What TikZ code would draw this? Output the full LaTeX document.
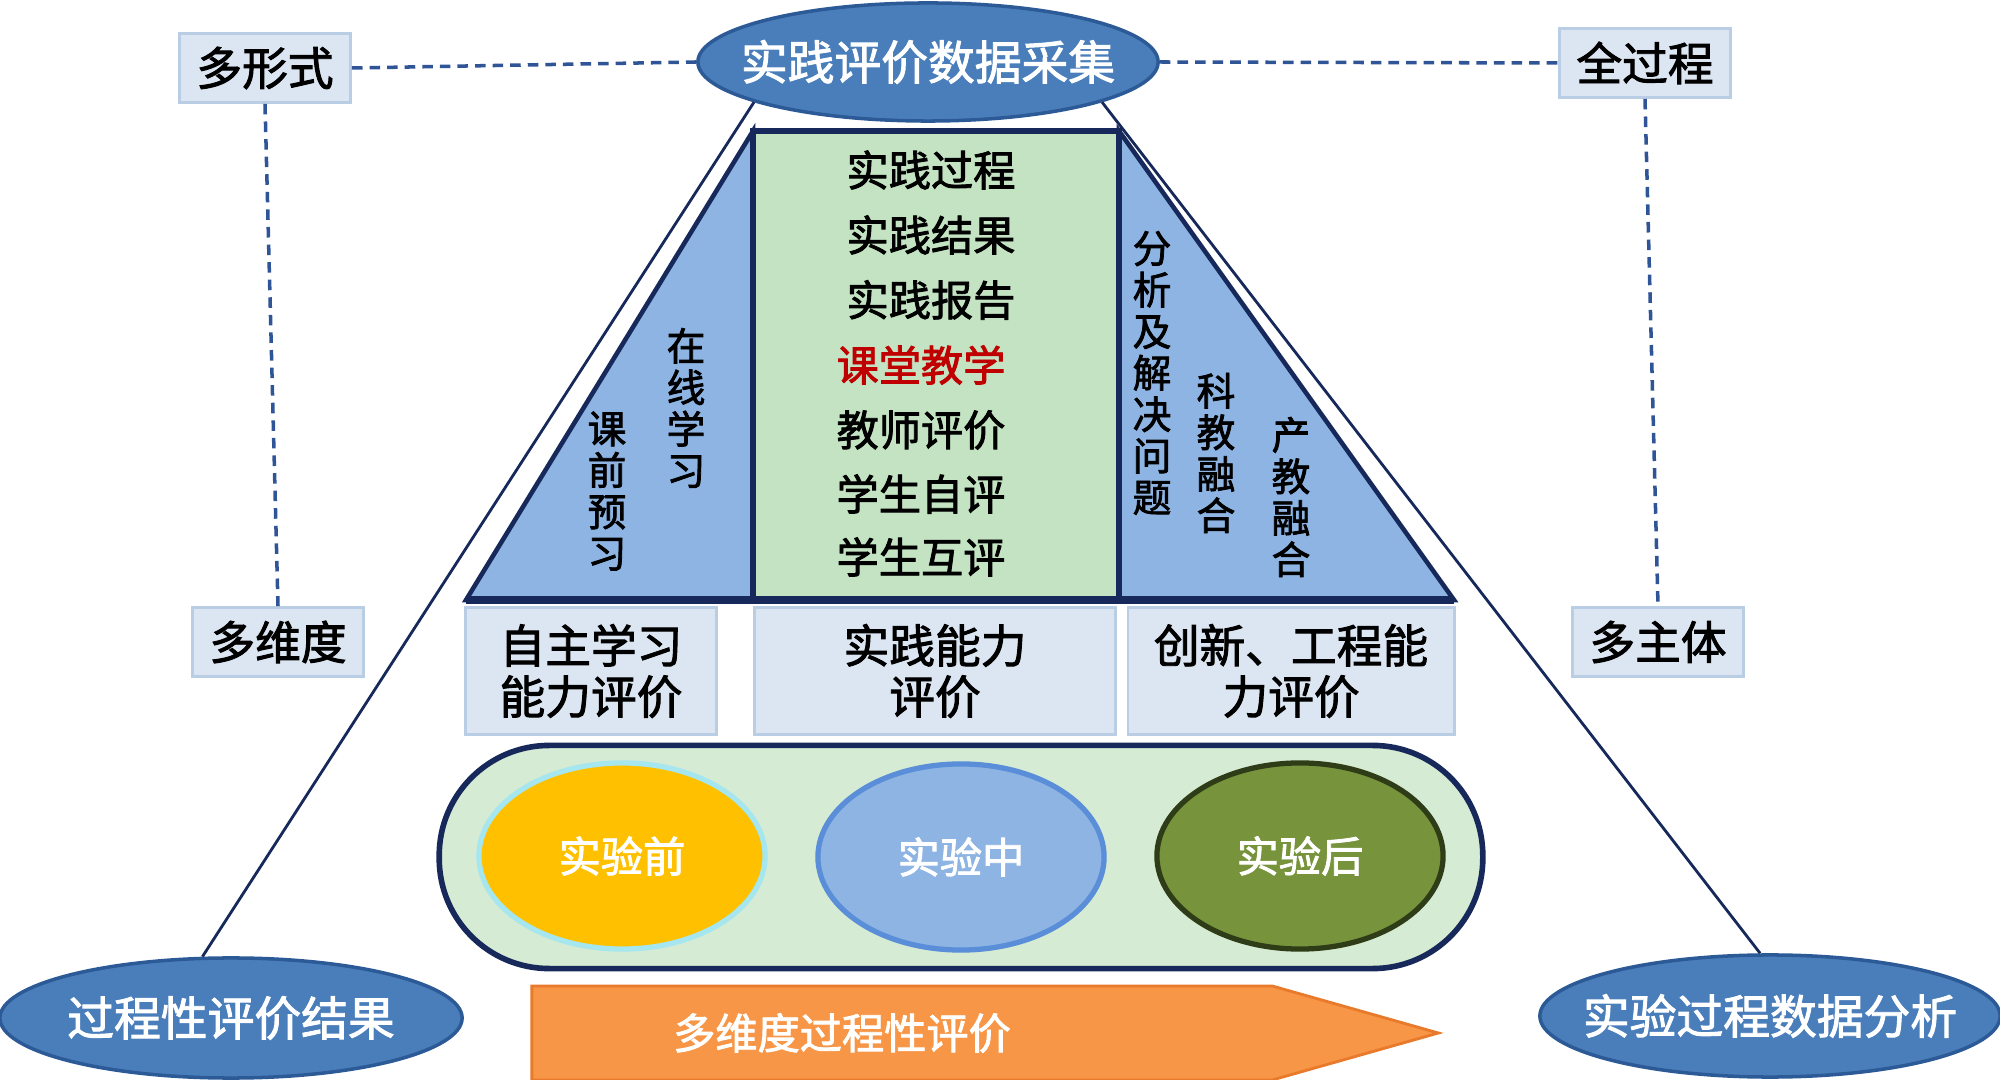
\documentclass[tikz,border=0pt]{standalone}
\usepackage{fontspec}
\setmainfont{Noto Sans CJK SC}[AutoFakeBold=2]
\usepackage{tikz}
\usetikzlibrary{shapes,shapes.symbols,positioning}
\definecolor{evalNavy}{HTML}{16295A}
\definecolor{evalDash}{HTML}{2F5597}
\definecolor{evalEllFill}{HTML}{4A7EBB}
\definecolor{evalEllLine}{HTML}{2C5A96}
\definecolor{evalTagFill}{HTML}{DCE6F2}
\definecolor{evalTagLine}{HTML}{B9CDE5}
\definecolor{evalBlue}{HTML}{8DB4E2}
\definecolor{evalGreen}{HTML}{C3E3C3}
\definecolor{evalBand}{HTML}{D6EBD3}
\definecolor{evalRed}{HTML}{C00000}
\definecolor{evalOrange}{HTML}{F79646}
\definecolor{evalOrangeLine}{HTML}{E97A2C}
\definecolor{evalGold}{HTML}{FFC000}
\definecolor{evalCyan}{HTML}{A6E6EF}
\definecolor{evalMidLine}{HTML}{5B8ED8}
\definecolor{evalOlive}{HTML}{77933C}
\definecolor{evalOliveLine}{HTML}{2E3D17}

\begin{document}
\begin{tikzpicture}[x=0.01cm, y=-0.01cm,
          tagBox/.style={rectangle, draw=evalTagLine, fill=evalTagFill, line width=0.8pt, minimum width=1.71cm, minimum height=0.69cm, font=\fontsize{13}{15}\selectfont\bfseries},
          ellData/.style={ellipse, draw=evalEllLine, fill=evalEllFill, line width=1pt, inner xsep=-0.5cm, inner ysep=0pt, minimum width=4.6cm, minimum height=1.18cm, text=white, font=\fontsize{13.3}{15}\selectfont\bfseries},
          link/.style={draw=evalNavy, line width=0.8pt},
          dashLink/.style={draw=evalDash, line width=1pt, dash pattern=on 3pt off 2pt},
          item/.style={inner sep=0pt, font=\fontsize{12}{14}\selectfont\bfseries},
          vText/.style={align=center, inner sep=0pt, font=\fontsize{11}{11.8}\selectfont\bfseries},
          abilityBox/.style={rectangle, draw=evalTagLine, fill=evalTagFill, line width=0.8pt, minimum height=1.27cm, align=center, font=\fontsize{13}{14.5}\selectfont\bfseries},
          stageBand/.style={rectangle, rounded corners=1.1cm, draw=evalNavy, line width=1.6pt, fill=evalBand, minimum width=10.43cm, minimum height=2.23cm},
          stage/.style={ellipse, line width=1.5pt, minimum width=2.86cm, minimum height=1.86cm, text=white, font=\fontsize{12}{14}\selectfont\bfseries}
        ]
          \useasboundingbox (0,0) rectangle (2000,1080);

          \node[ellData] (dataEll) at (928,62) {实践评价数据采集};
          \node[tagBox] (formTag) at (265,68) {多形式};
          \node[tagBox] (processTag) at (1645,63) {全过程};
          \node[tagBox] (dimTag) at (278,642) {多维度};
          \node[tagBox] (subjectTag) at (1658,642) {多主体};
          \draw[dashLink] (formTag.east) -- (dataEll.west);
          \draw[dashLink] (dataEll.east) -- (processTag.west);
          \draw[dashLink] (formTag.south) -- (dimTag.north);
          \draw[dashLink] (processTag.south) -- (subjectTag.north);

          \coordinate (trapBL) at (466,600);
          \coordinate (trapTL) at (753,131);
          \coordinate (trapTR) at (1119,131);
          \coordinate (trapBR) at (1454,600);
          \draw[evalNavy, line width=1.3pt, fill=evalBlue] (trapBL) -- (trapTL) -- (trapTL |- trapBL) -- cycle;
          \draw[evalNavy, line width=1.3pt, fill=evalBlue] (trapTR) -- (trapBR) -- (trapTR |- trapBR) -- cycle;
          \draw[evalNavy, line width=1.6pt, fill=evalGreen] (trapTL) rectangle (trapTR |- trapBL);
          \draw[evalNavy, line width=2pt] (trapBL) -- (trapBR);

          \node[item] (itemA) at (931,170) {实践过程};
          \node[item] (itemB) at (931,235) {实践结果};
          \node[item] (itemC) at (931,300) {实践报告};
          \node[item, text=evalRed] (itemD) at (921,365) {课堂教学};
          \node[item] (itemE) at (921,430) {教师评价};
          \node[item] (itemF) at (921,494) {学生自评};
          \node[item] (itemG) at (921,557) {学生互评};

          \node[vText] (preview) at (607,491) {课\\前\\预\\习};
          \node[vText] (online) at (686,408) {在\\线\\学\\习};
          \node[vText] (solve) at (1152,373) {分\\析\\及\\解\\决\\问\\题};
          \node[vText] (sciEdu) at (1216,453) {科\\教\\融\\合};
          \node[vText] (indEdu) at (1291,497) {产\\教\\融\\合};

          \node[abilityBox, minimum width=2.51cm] (selfBox) at (591,671) {自主学习\\能力评价};
          \node[abilityBox, minimum width=3.61cm] (practBox) at (935,671) {实践能力\\评价};
          \node[abilityBox, minimum width=3.26cm] (innoBox) at (1291,671) {创新、工程能\\力评价};

          \node[stageBand] (band) at (961,857) {};
          \node[stage, fill=evalGold, draw=evalCyan] (before) at (622,856) {实验前};
          \node[stage, fill=evalBlue, draw=evalMidLine] (during) at (961,857) {实验中};
          \node[stage, fill=evalOlive, draw=evalOliveLine] (after) at (1300,856) {实验后};

          \node[signal, signal to=east, signal pointer angle=31.6, minimum width=9.06cm, minimum height=0.94cm, inner sep=0pt, fill=evalOrange, draw=evalOrangeLine, line width=0.8pt] (trend) at (902,1033) {};
          \node[inner sep=0pt, text=white, font=\fontsize{12}{14}\selectfont\bfseries] (trendText) at (842,1033) {多维度过程性评价};

          \node[ellData, minimum width=4.62cm, minimum height=1.2cm] (resultEll) at (231,1018) {过程性评价结果};
          \node[ellData, minimum width=4.6cm, minimum height=1.22cm] (analysisEll) at (1770,1016) {实验过程数据分析};
          \draw[link] (dataEll.193) -- (resultEll.115);
          \draw[link] (dataEll.-13) -- (analysisEll.99);
        \end{tikzpicture}
\end{document}
